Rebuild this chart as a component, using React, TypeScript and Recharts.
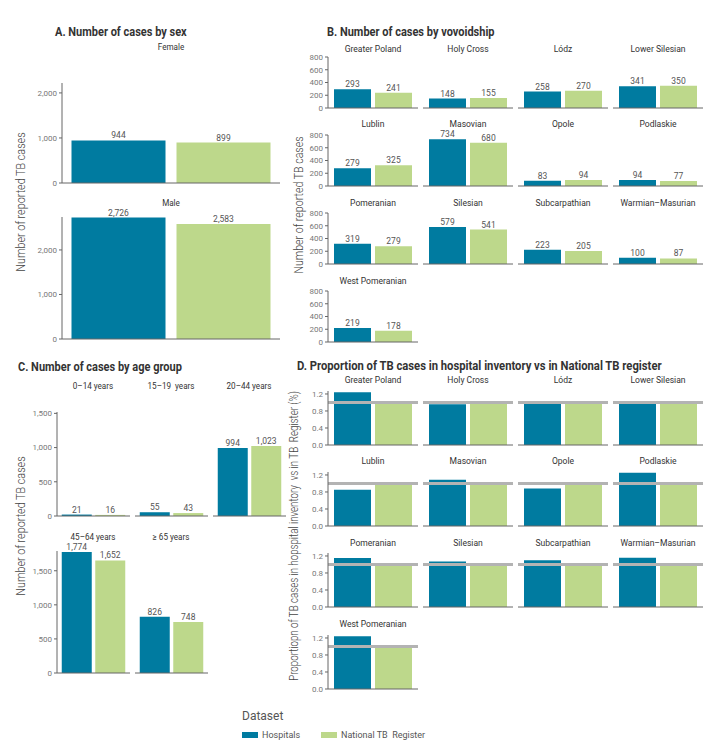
import React from 'react';
import { BarChart, Bar, XAxis, YAxis, Cell, LabelList, ReferenceLine } from 'recharts';

const FONT = 'Roboto, sans-serif';
const BLUE = '#007BA0';
const GREEN = '#BDD88B';
const AXIS = '#666';

const datasets = ['Hospitals', 'National TB  Register'];
const datasetColors = [BLUE, GREEN];

// A. by sex
const sexes = ['Female', 'Male'];
const hospitalsBySex = [944, 2726];
const registerBySex = [899, 2583];

// B. by voivodship
const regions = [
  'Greater Poland', 'Holy Cross', 'Lódz', 'Lower Silesian',
  'Lublin', 'Masovian', 'Opole', 'Podlaskie',
  'Pomeranian', 'Silesian', 'Subcarpathian', 'Warmian–Masurian',
  'West Pomeranian',
];
const hospitalsByRegion = [293, 148, 258, 341, 279, 734, 83, 94, 319, 579, 223, 100, 219];
const registerByRegion = [241, 155, 270, 350, 325, 680, 94, 77, 279, 541, 205, 87, 178];

// C. by age group
const ageGroups = ['0–14 years', '15–19  years', '20–44 years', '45–64 years', '≥ 65 years'];
const hospitalsByAge = [21, 55, 994, 1774, 826];
const registerByAge = [16, 43, 1023, 1652, 748];

// D. proportion hospitals / register
const proportionHospitals = [1.24, 0.96, 0.97, 0.97, 0.85, 1.09, 0.88, 1.25, 1.15, 1.07, 1.1, 1.16, 1.24];
const proportionRegister = [1, 1, 1, 1, 1, 1, 1, 1, 1, 1, 1, 1, 1];

const sexTicks = [0, 1000, 2000];
const regionTicks = [0, 200, 400, 600, 800];
const ageTicks = [0, 500, 1000, 1500];
const propTicks = [0, 0.4, 0.8, 1.2];

const YW = 34;
const MT = 14;
const XH = 2;
const MB = 6;
const MR = 2;

const fmtInt = (v: number) => v.toLocaleString('en-US');
const fmtDec = (v: number) => v.toFixed(1);

function Facet({ left, top, w, h, hosp, reg, domain, ticks, fmt, showY = true, labels = true, refY, pad = 4, gap = 2 }: any) {
  const data = [
    { name: datasets[0], value: hosp },
    { name: datasets[1], value: reg },
  ];
  return (
    <div style={{ position: 'absolute', left: left - YW, top: top - MT }}>
      <BarChart
        width={w + YW + MR}
        height={h + MT + XH + MB}
        data={data}
        margin={{ top: MT, right: MR, left: 0, bottom: MB }}
        barCategoryGap={gap}
      >
        <XAxis dataKey="name" height={XH} tick={false} tickLine={false} axisLine={{ stroke: AXIS }} padding={{ left: pad, right: pad }} />
        <YAxis
          width={YW}
          domain={domain}
          ticks={ticks}
          interval={0}
          allowDataOverflow
          tickFormatter={fmt}
          tickSize={3}
          tick={showY ? { fontSize: 8, fill: '#777', fontFamily: FONT } : false}
          tickLine={showY ? { stroke: AXIS } : false}
          axisLine={showY ? { stroke: AXIS } : false}
        />
        <Bar dataKey="value" isAnimationActive={false}>
          {data.map((d, i) => (
            <Cell key={i} fill={datasetColors[i]} />
          ))}
          {labels && (
            <LabelList dataKey="value" position="top" offset={2} formatter={(v: any) => fmtInt(v)} fontSize={8.5} fill="#555" fontFamily={FONT} />
          )}
        </Bar>
        {refY !== undefined && <ReferenceLine y={refY} stroke="#b3b3b3" strokeWidth={3} />}
      </BarChart>
    </div>
  );
}

function Txt({ x, y, children, anchor = 'middle', size = 10, bold = false, color = '#333', sx = 1 }: any) {
  const mid = anchor === 'middle';
  return (
    <div
      style={{
        position: 'absolute',
        left: x,
        top: y,
        transform: (mid ? 'translate(-50%, -50%)' : 'translate(0, -50%)') + ` scaleX(${sx})`,
        transformOrigin: mid ? '50% 50%' : '0 50%',
        whiteSpace: 'pre',
        fontSize: size,
        fontWeight: bold ? 700 : 400,
        color,
        fontFamily: FONT,
        lineHeight: 1,
      }}
    >
      {children}
    </div>
  );
}

function VLabel({ x, y, children, size = 13, sx = 1 }: any) {
  return (
    <div
      style={{
        position: 'absolute',
        left: x,
        top: y,
        transform: `translate(-50%, -50%) rotate(-90deg) scaleX(${sx})`,
        whiteSpace: 'pre',
        fontSize: size,
        color: '#444',
        fontFamily: FONT,
        fontWeight: 300,
        lineHeight: 1,
      }}
    >
      {children}
    </div>
  );
}

const gridCols = [328, 423, 518, 613];
const bTops = [57, 135, 213, 291];
const bTitleY = [49, 124, 203, 281];
const dTops = [391, 472, 553, 635];
const dTitleY = [380, 461, 543, 624];
const cCols = [57, 135, 213];

const TITLE_SX = 0.88;
const FACET_SX = 0.9;

export default function App() {
  return (
    <div style={{ position: 'absolute', left: 0, top: 0, width: 725, height: 756, background: '#fff', fontFamily: FONT }}>
      {/* A */}
      <Txt x={55} y={32} anchor="start" size={12.5} bold sx={TITLE_SX}>A. Number of cases by sex</Txt>
      <VLabel x={20} y={202} size={13} sx={0.83}>Number of reported TB cases</VLabel>
      {sexes.map((s, i) => {
        const top = i === 0 ? 83 : 217;
        const h = i === 0 ? 100 : 122;
        return (
          <React.Fragment key={s}>
            <Txt x={171} y={i === 0 ? 47 : 203} size={9} sx={FACET_SX}>{s}</Txt>
            <Facet
              left={62}
              top={top}
              w={218}
              h={h}
              hosp={hospitalsBySex[i]}
              reg={registerBySex[i]}
              domain={i === 0 ? [0, 2220] : [0, 2740]}
              ticks={sexTicks}
              fmt={fmtInt}
              gap={5.5}
            />
          </React.Fragment>
        );
      })}

      {/* B */}
      <Txt x={327} y={32} anchor="start" size={12.5} bold sx={TITLE_SX}>B. Number of cases by vovoidship</Txt>
      <VLabel x={299} y={205} size={12.5} sx={0.85}>Number of reported TB cases</VLabel>
      {regions.map((r, i) => {
        const col = i % 4;
        const row = Math.floor(i / 4);
        const left = gridCols[col];
        return (
          <React.Fragment key={r}>
            <Txt x={left + 45} y={bTitleY[row]} size={9.5} sx={FACET_SX}>{r}</Txt>
            <Facet
              left={left}
              top={bTops[row]}
              w={90}
              h={51}
              hosp={hospitalsByRegion[i]}
              reg={registerByRegion[i]}
              domain={[0, 800]}
              ticks={regionTicks}
              fmt={fmtInt}
              showY={col === 0}
            />
          </React.Fragment>
        );
      })}

      {/* C */}
      <Txt x={18} y={367} anchor="start" size={12.5} bold sx={TITLE_SX}>C. Number of cases by age group</Txt>
      <VLabel x={20} y={526} size={13} sx={0.83}>Number of reported TB cases</VLabel>
      {ageGroups.map((g, i) => {
        const col = i % 3;
        const row = Math.floor(i / 3);
        const left = cCols[col];
        const top = row === 0 ? 412 : 551;
        const h = row === 0 ? 104 : 122;
        return (
          <React.Fragment key={g}>
            <Txt x={left + 36} y={row === 0 ? 386 : 537} size={9} sx={FACET_SX}>{g}</Txt>
            <Facet
              left={left}
              top={top}
              w={73}
              h={h}
              hosp={hospitalsByAge[i]}
              reg={registerByAge[i]}
              domain={row === 0 ? [0, 1520] : [0, 1790]}
              ticks={ageTicks}
              fmt={fmtInt}
              showY={col === 0}
              pad={3}
              gap={1.75}
            />
          </React.Fragment>
        );
      })}

      {/* D */}
      <Txt x={297} y={366} anchor="start" size={12.5} bold sx={0.9}>D. Proportion of TB cases in hospital inventory vs in National TB register</Txt>
      <VLabel x={294} y={536} size={12} sx={0.81}>Proportiopn of TB cases in hopspital inventory  vs in TB  Register (%)</VLabel>
      {regions.map((r, i) => {
        const col = i % 4;
        const row = Math.floor(i / 4);
        const left = gridCols[col];
        return (
          <React.Fragment key={r + '-d'}>
            <Txt x={left + 45} y={dTitleY[row]} size={9.5} sx={FACET_SX}>{r}</Txt>
            <Facet
              left={left}
              top={dTops[row]}
              w={90}
              h={54}
              hosp={proportionHospitals[i]}
              reg={proportionRegister[i]}
              domain={[0, 1.27]}
              ticks={propTicks}
              fmt={fmtDec}
              showY={col === 0}
              labels={false}
              refY={1}
            />
          </React.Fragment>
        );
      })}

      {/* legend */}
      <Txt x={242} y={716} anchor="start" size={12} color="#555">Dataset</Txt>
      {datasets.map((d, i) => (
        <React.Fragment key={d}>
          <div style={{ position: 'absolute', left: i === 0 ? 242 : 321, top: 732, width: 16, height: 6, background: datasetColors[i] }} />
          <Txt x={i === 0 ? 262 : 341} y={735} anchor="start" size={9} color="#555">{d}</Txt>
        </React.Fragment>
      ))}
    </div>
  );
}
